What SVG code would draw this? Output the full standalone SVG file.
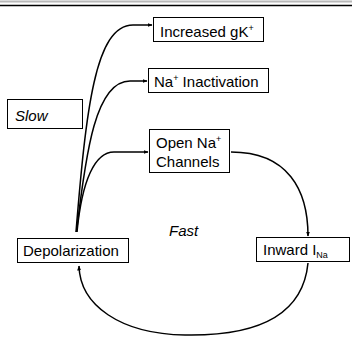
<svg xmlns="http://www.w3.org/2000/svg" width="352" height="339" viewBox="0 0 352 339">
<defs>
<marker id="ah" viewBox="0 0 10 10" refX="9" refY="5" markerWidth="5" markerHeight="5" orient="auto" markerUnits="userSpaceOnUse">
<path d="M0,1 L10,5 L0,9 Z" fill="#000"/>
</marker>
<style>
.box{fill:#fff;stroke:#000;stroke-width:1}
.t{font-family:"Liberation Sans",Arial,sans-serif;font-size:15px;fill:#000}
.i{font-style:italic}
.sup{font-size:9px}
.c{fill:none;stroke:#000;stroke-width:1.5;marker-end:url(#ah)}
</style>
</defs>
<rect width="352" height="339" fill="#fff"/>
<line x1="0" y1="1.5" x2="352" y2="1.5" stroke="#b8b8b8" stroke-width="2"/>
<line x1="0" y1="5.5" x2="352" y2="5.5" stroke="#000" stroke-width="1.6"/>
<g id="connectors">
<path class="c" d="M76,232 C86,110 95,25 133,25 L152,25"/>
<path class="c" d="M76.5,232 C86,150 96,81 130,81 L147,81"/>
<path class="c" d="M77,232 C82,180 95,152 114,152 L148,152"/>
<path class="c" d="M231,152 C288,152 308,190 308,236"/>
<path class="c" d="M308,263 C302,325 240,336 185,335 C120,334 80,305 79,266"/>
</g>
<g id="increased-gk">
<rect class="box" x="153.5" y="17.5" width="110" height="24"/>
<text class="t" x="160" y="37">Increased gK<tspan class="sup" dy="-6">+</tspan></text>
</g>
<g id="na-inactivation">
<rect class="box" x="148.5" y="68.5" width="120" height="24"/>
<text class="t" x="154" y="87">Na<tspan class="sup" dy="-6">+</tspan><tspan dy="6"> Inactivation</tspan></text>
</g>
<g id="slow">
<rect class="box" x="7.5" y="99.5" width="75" height="29" stroke="#555"/>
<text class="t i" x="15" y="121">Slow</text>
</g>
<g id="open-na">
<rect class="box" x="149.5" y="129.5" width="80" height="43"/>
<text class="t" x="156" y="148">Open Na<tspan class="sup" dy="-6">+</tspan></text>
<text class="t" x="156" y="167">Channels</text>
</g>
<g id="fast">
<text class="t i" x="169" y="236">Fast</text>
</g>
<g id="depolarization">
<rect class="box" x="17.5" y="238.5" width="111" height="24"/>
<text class="t" x="23" y="256">Depolarization</text>
</g>
<g id="inward-ina">
<rect class="box" x="256.5" y="237.5" width="93" height="24"/>
<text class="t" x="263" y="255">Inward I<tspan font-size="9px" dy="3">Na</tspan></text>
</g>
</svg>
